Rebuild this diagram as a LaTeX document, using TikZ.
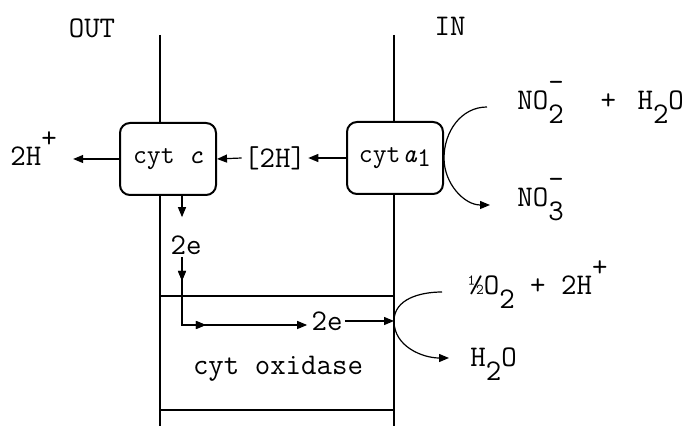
\documentclass[tikz,border=0pt]{standalone}
\usepackage{fontspec}
\usetikzlibrary{arrows.meta,positioning,calc,decorations.markings}
\newcommand\lowr[1]{\raisebox{-7pt}{#1}}
\newcommand\highr[1]{\raisebox{9pt}{#1}}
\tikzset{
  memline/.style={line width=1.1pt},
  cytbox/.style={draw,fill=white,line width=1pt,rounded corners=5pt,
    minimum width=48pt,minimum height=36pt,inner sep=1pt,font=\ttfamily\fontsize{13.5}{15}\selectfont},
  lbl/.style={inner sep=1pt},
  flow/.style={line width=0.6pt,-{Triangle[length=5pt,width=4pt]}},
  midtip/.style={postaction={decorate},decoration={markings,
    mark=at position #1 with {\arrow{Triangle[length=5pt,width=4pt]}}}}
}

\begin{document}
\begin{tikzpicture}[x=0.5pt,y=-0.5pt,every node/.style={font=\ttfamily\fontsize{15}{17}\selectfont}]
\useasboundingbox (0,0) rectangle (684,426);
\coordinate (outtop) at (160,35); \coordinate (outbot) at (160,426);
\coordinate (intop) at (394,35);  \coordinate (inbot) at (394,426);
\draw[memline] (outtop) -- (outbot);
\draw[memline] (intop) -- (inbot);
\draw[memline] (160,296) -- (394,296);
\draw[memline] (160,410) -- (394,410);
\node[lbl] (outlbl) at (92,28) {OUT};
\node[lbl] (inlbl) at (450,26) {IN};
\node[cytbox] (cytc) at (168,159) {cyt \textit{c}};
\node[cytbox] (cyta) at (395,158) {cyt\kern1pt\textit{a}\raisebox{-2pt}{1}};
\node[lbl] (twoh) at (275,158) {[2H]};
\node[lbl,anchor=base west] (hplus) at (8,166) {2H\highr{+}};
\draw[flow,shorten >=7pt] (cytc.west) -- (cytc.west -| hplus.east);
\draw[flow] (cyta.west) -- (twoh.east);
\draw[flow] (twoh.west) -- (cytc.east);
% electrons down to the oxidase
\node[lbl] (e1) at (186,245) {2e};
\coordinate (bend) at (182,325);
\node[lbl] (e2) at (327,321) {2e};
\coordinate (oxin) at (394,321);
\draw[flow,shorten >=8pt] (cytc.south -| bend) -- (e1.north -| bend);
\draw[flow,midtip=12pt,midtip=46pt,shorten >=1pt] (e1.south -| bend) -- (bend) -- (bend -| e2.west);
\draw[flow] (e2.east) -- (oxin);
\node[lbl] (oxid) at (278,369) {cyt oxidase};
% nitrite / nitrate
\node[lbl,anchor=base west] (no2) at (515,110) {NO\lowr{2}\llap{\highr{-}}\ \ \kern3pt+\kern3pt\ H\lowr{2}O};
\node[lbl,anchor=base west] (no3) at (515,207) {NO\lowr{3}\llap{\highr{-}}};
\coordinate (no2in) at (487,107);
\coordinate (no3out) at (490,205);
\draw[flow] (no2in) to[out=180,in=90] (cyta.east) to[out=-90,in=180] (no3out);
% oxygen / water
\node[lbl,anchor=base west] (oxy) at (466,295) {½O\lowr{2} + 2H\highr{+}};
\node[lbl,anchor=base west] (wat) at (468,367) {H\lowr{2}O};
\coordinate (o2in) at (442,292);
\coordinate (h2oout) at (449,358);
\draw[flow] (o2in) to[out=180,in=90] (oxin) to[out=-90,in=180] (h2oout);
\end{tikzpicture}
\end{document}
